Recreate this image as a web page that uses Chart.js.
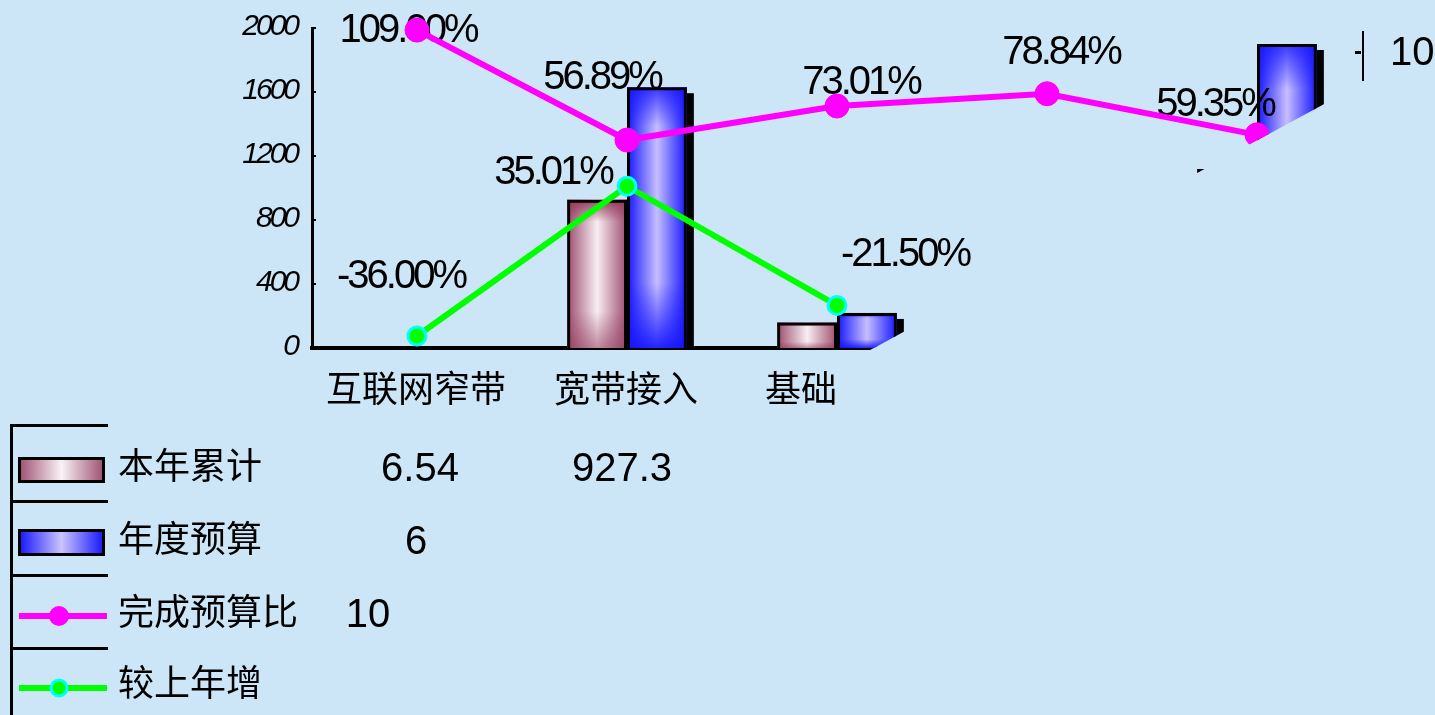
<!DOCTYPE html>
<html>
<head>
<meta charset="utf-8">
<script src="https://cdn.jsdelivr.net/npm/chart.js@4.4.1/dist/chart.umd.min.js"></script>
<style>
  html, body { margin: 0; padding: 0; background: #cde6f7; }
  canvas { display: block; }
</style>
</head>
<body>
<canvas id="chart" width="1435" height="715"></canvas>
<script>
// data (last two categories are cut away in the original)
const categories = ['互联网窄带', '宽带接入', '基础', '', ''];
const cumulative = [6.54, 927.3, 160, 237, 1118];          // 本年累计
const budget = [6, 1630, 219, 300, 1900];                   // 年度预算
const budgetRatio = [109.00, 56.89, 73.01, 78.84, 59.35];   // 完成预算比 %
const yearGrowth = [-36.00, 35.01, -21.50, null, null];     // 较上年增 %
const yTicks = [0, 400, 800, 1200, 1600, 2000];
const seriesNames = ['本年累计', '年度预算', '完成预算比', '较上年增'];
// what is left of the data table under the legend
const tableCells = [['6.54', '927.3'], ['6'], ['10']];

// label offsets (px)
const ratioLabelShift = [[-9, -2], [-25, -65], [24, -26], [14, -44], [-42, -33]];
const growthLabelShift = [[-16, -62], [-74, -16], [68, -53]];
const xLabelShift = [-1, -1, -36, 0, 0];

const W = 1435, H = 715;
const NUM_FONT = '"Liberation Sans", Arial, sans-serif';
const CJK_FONT = '"Noto Sans CJK SC", sans-serif';

// the original picture is cut along a slanted line on the right
const cutA = [872, 349], cutB = [1317, 108];
function cutX(y) { return cutA[0] + (cutA[1] - y) * (cutB[0] - cutA[0]) / (cutA[1] - cutB[1]); }
function cutY(x) { return cutA[1] - (x - cutA[0]) * (cutA[1] - cutB[1]) / (cutB[0] - cutA[0]); }

const barLooks = [
    { edge: '#9c4c6e', mid: '#f8eef2', shade: '145,55,90', topA: 0.95, botA: 0.55 },
    { edge: '#1414ff', mid: '#c6beff', shade: '20,20,255', topA: 0.8, botA: 0.9 }
];

function paintBar(ctx, x, y, w, h, look) {
    const g = ctx.createLinearGradient(x, 0, x + w, 0);
    g.addColorStop(0, look.edge);
    g.addColorStop(0.5, look.mid);
    g.addColorStop(1, look.edge);
    ctx.fillStyle = g;
    ctx.fillRect(x, y, w, h);
    const v = ctx.createLinearGradient(0, y, 0, y + h);
    v.addColorStop(0, 'rgba(' + look.shade + ',' + look.topA + ')');
    v.addColorStop(0.15, 'rgba(' + look.shade + ',0)');
    v.addColorStop(0.75, 'rgba(' + look.shade + ',0)');
    v.addColorStop(1, 'rgba(' + look.shade + ',' + look.botA + ')');
    ctx.fillStyle = v;
    ctx.fillRect(x, y, w, h);
}

const sketchPlugin = {
    id: 'sketch',
    beforeDraw(chart) {
        const ctx = chart.ctx;
        ctx.save();
        ctx.beginPath();
        ctx.moveTo(0, 0);
        ctx.lineTo(W, 0);
        ctx.lineTo(W, cutY(W));
        ctx.lineTo(cutX(356), 356);
        ctx.lineTo(W, 356);
        ctx.lineTo(W, H);
        ctx.lineTo(0, H);
        ctx.closePath();
        ctx.clip();
    },
    beforeDatasetDraw(chart, args) {
        const meta = args.meta;
        if (meta.type !== 'bar') return;
        const ctx = chart.ctx;
        const look = barLooks[args.index];
        meta.data.forEach(bar => {
            const p = bar.getProps(['x', 'y', 'base', 'width'], true);
            const left = p.x - p.width / 2;
            const top = Math.min(p.y, p.base);
            const h = Math.abs(p.base - p.y);
            if (h < 2) return;
            // only the budget bars show their dark side
            if (args.index === 1) {
                ctx.fillStyle = '#000';
                ctx.fillRect(left + p.width, top + 6, 7, h - 6);
            }
            paintBar(ctx, left, top, p.width, h, look);
        });
    },
    afterDatasetDraw(chart, args) {
        // bars of dataset 0 are drawn last of the bars
        if (args.index !== 0) return;
        const ctx = chart.ctx;
        ctx.save();
        ctx.fillStyle = '#000';
        ctx.font = '40px ' + NUM_FONT;
        ctx.letterSpacing = '-3px';
        ctx.textAlign = 'center';
        ctx.textBaseline = 'alphabetic';
        const put = (dsIndex, values, shift) => {
            const meta = chart.getDatasetMeta(dsIndex);
            values.forEach((v, i) => {
                if (v === null || !shift[i]) return;
                const pt = meta.data[i];
                ctx.fillText(v.toFixed(2) + '%', pt.x + shift[i][0], pt.y + shift[i][1] + 14);
            });
        };
        put(2, budgetRatio, ratioLabelShift);
        put(3, yearGrowth, growthLabelShift);
        ctx.restore();
    },
    afterDatasetsDraw(chart) {
        chart.ctx.restore();
    },
    afterDraw(chart) {
        const ctx = chart.ctx;
        const ys = chart.scales.y;
        const xs = chart.scales.x;
        ctx.save();
        ctx.fillStyle = '#000';

        // y tick labels
        ctx.font = 'italic 30px ' + NUM_FONT;
        ctx.letterSpacing = '-3px';
        ctx.textAlign = 'right';
        ctx.textBaseline = 'alphabetic';
        yTicks.forEach(v => {
            const py = ys.getPixelForValue(v);
            ctx.fillText(String(v), 297, py + 7);
            if (v > 0) ctx.fillRect(ys.right + 1, py - 1, 3, 2);
        });
        ctx.letterSpacing = '0px';

        // category labels
        ctx.font = '36px ' + CJK_FONT;
        ctx.textAlign = 'center';
        ctx.textBaseline = 'middle';
        categories.forEach((c, i) => {
            if (!c) return;
            ctx.fillText(c, xs.getPixelForValue(i) + xLabelShift[i], 388);
        });

        // legend / data table frame
        ctx.fillRect(10, 424, 3, H - 424);
        [424, 500, 574, 647].forEach(y => ctx.fillRect(10, y, 98, 3));

        // swatches
        paintBar(ctx, 18, 457, 87, 26, { edge: '#9a4a6c', mid: '#faf2f5', shade: '150,60,95', topA: 0, botA: 0 });
        paintBar(ctx, 18, 529, 87, 27, { edge: '#1010ff', mid: '#cac4ff', shade: '20,20,255', topA: 0, botA: 0 });
        ctx.lineWidth = 3;
        ctx.strokeStyle = '#000';
        ctx.strokeRect(19.5, 458.5, 84, 23);
        ctx.strokeRect(19.5, 530.5, 84, 24);

        ctx.fillStyle = '#ff00ff';
        ctx.fillRect(19, 613, 88, 6);
        ctx.beginPath();
        ctx.arc(59, 616, 10, 0, Math.PI * 2);
        ctx.fill();

        ctx.fillStyle = '#00ff00';
        ctx.fillRect(19, 685, 88, 6);
        ctx.beginPath();
        ctx.arc(59, 688, 8, 0, Math.PI * 2);
        ctx.fill();
        ctx.strokeStyle = '#00ffff';
        ctx.stroke();

        // legend names
        ctx.fillStyle = '#000';
        ctx.font = '36px ' + CJK_FONT;
        ctx.textAlign = 'left';
        ctx.textBaseline = 'middle';
        const rowY = [465, 538, 611, 682];
        seriesNames.forEach((name, i) => ctx.fillText(name, 118, rowY[i]));

        // table cells
        ctx.font = '40px ' + NUM_FONT;
        ctx.textAlign = 'center';
        ctx.textBaseline = 'alphabetic';
        const cellX = [[420, 622], [416], [368]];
        tableCells.forEach((row, r) => {
            row.forEach((txt, c) => ctx.fillText(txt, cellX[r][c], rowY[r] + 16));
        });

        // bits of the cut table at top right
        ctx.fillRect(1355, 51, 6, 3);
        ctx.fillRect(1362, 31, 2, 50);
        ctx.textAlign = 'left';
        ctx.fillText('10', 1390, 65);
        ctx.restore();
    }
};

new Chart(document.getElementById('chart'), {
    data: {
        labels: categories,
        datasets: [
            {
                type: 'bar',
                label: seriesNames[0],
                data: cumulative,
                order: 3,
                backgroundColor: 'rgba(0,0,0,0)',
                borderColor: '#000',
                borderWidth: 3,
                borderSkipped: 'bottom',
                categoryPercentage: 0.57,
                barPercentage: 1
            },
            {
                type: 'bar',
                label: seriesNames[1],
                data: budget,
                order: 4,
                backgroundColor: 'rgba(0,0,0,0)',
                borderColor: '#000',
                borderWidth: 3,
                borderSkipped: 'bottom',
                categoryPercentage: 0.57,
                barPercentage: 1
            },
            {
                type: 'line',
                label: seriesNames[2],
                data: budgetRatio,
                yAxisID: 'y1',
                order: 2,
                borderColor: '#ff00ff',
                borderWidth: 6,
                pointRadius: 12,
                pointBackgroundColor: '#ff00ff',
                pointBorderColor: '#ff00ff',
                pointBorderWidth: 1,
                tension: 0,
                clip: false
            },
            {
                type: 'line',
                label: seriesNames[3],
                data: yearGrowth,
                yAxisID: 'y1',
                order: 1,
                borderColor: '#00ff00',
                borderWidth: 6,
                pointRadius: 9,
                pointBackgroundColor: '#00ff00',
                pointBorderColor: '#00ffff',
                pointBorderWidth: 3,
                tension: 0,
                clip: false
            }
        ]
    },
    options: {
        responsive: false,
        animation: false,
        events: [],
        devicePixelRatio: 1,
        layout: { padding: { top: 28, right: 73, left: 0, bottom: 0 } },
        plugins: {
            legend: { display: false },
            tooltip: { enabled: false }
        },
        scales: {
            x: {
                grid: { display: false, drawTicks: false },
                border: { display: true, color: '#000', width: 4 },
                ticks: { display: false },
                afterFit(scale) { scale.height = H - 348; }
            },
            y: {
                min: 0,
                max: 2000,
                ticks: { display: false, stepSize: 400 },
                grid: { display: false, drawTicks: false },
                border: { display: true, color: '#000', width: 3 },
                afterFit(scale) { scale.width = 312; }
            },
            y1: {
                display: false,
                min: -41.7,
                max: 110
            }
        }
    },
    plugins: [sketchPlugin]
});
</script>
</body>
</html>
